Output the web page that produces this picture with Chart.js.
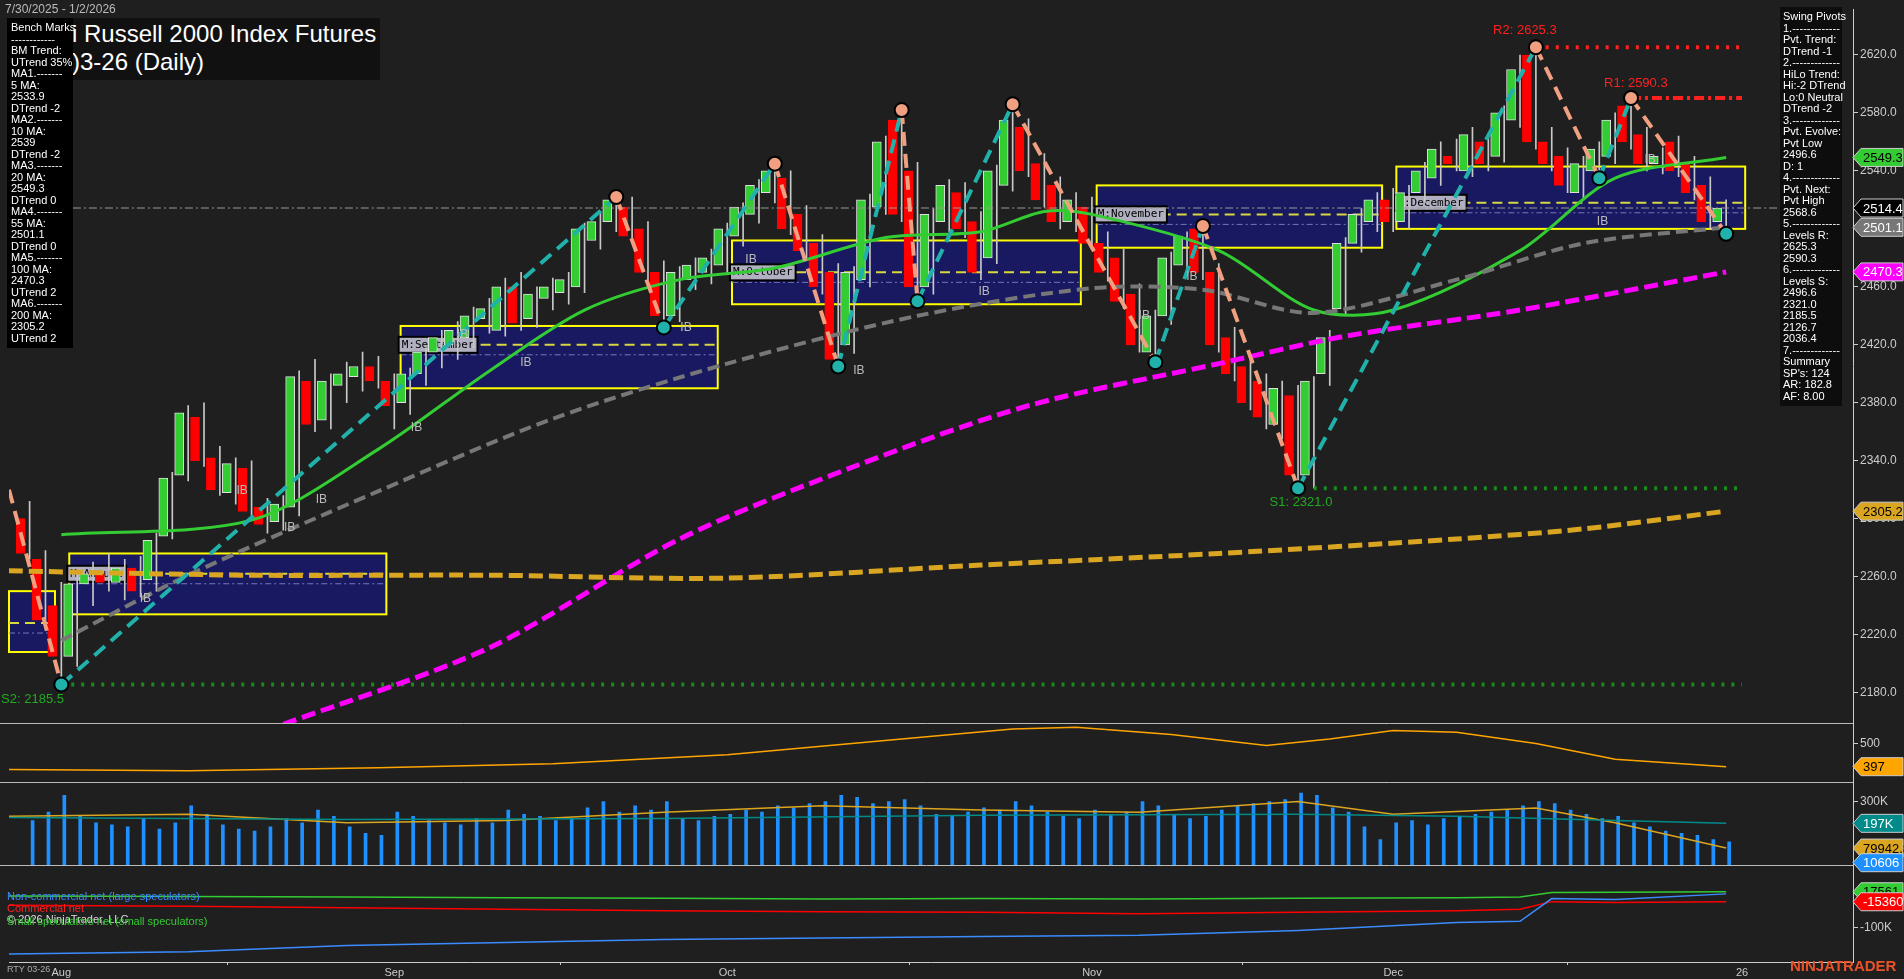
<!DOCTYPE html>
<html>
<head>
<meta charset="utf-8">
<script src="https://cdn.jsdelivr.net/npm/chart.js@4.4.1/dist/chart.umd.min.js"></script>
<style>
  body { margin:0; background:#1f1f1f; font-family:"Liberation Sans", Arial, sans-serif; }
  #wrap { position:relative; width:1904px; height:979px; }
  .txt { position:absolute; color:#fff; font-size:11px; line-height:11.5px; white-space:pre; }
  #bench { left:7px; top:18px; width:58px; padding:4px; background:#000; z-index:3; }
  #swing { left:1780px; top:7px; width:56px; padding:4px 3px; background:#0d0d0d; }
  #title { left:72px; top:18px; width:308px; height:60px; background:#111; font-size:24px; line-height:28px; padding-top:2px; z-index:2; }
</style>
</head>
<body>
<div id="wrap">
  <canvas id="c"></canvas>
  <div class="txt" style="left:5px;top:4px;color:#bbb;font-size:12px;">7/30/2025 - 1/2/2026</div>
  <div class="txt" id="title">i Russell 2000 Index Futures
)3-26 (Daily)</div>
  <div class="txt" id="bench">Bench Marks
------------
BM Trend:
UTrend 35%
MA1.-------
5 MA:
2533.9
DTrend -2
MA2.-------
10 MA:
2539
DTrend -2
MA3.-------
20 MA:
2549.3
DTrend 0
MA4.-------
55 MA:
2501.1
DTrend 0
MA5.-------
100 MA:
2470.3
UTrend 2
MA6.-------
200 MA:
2305.2
UTrend 2</div>
  <div class="txt" id="swing">Swing Pivots
1.-------------
Pvt. Trend:
DTrend -1
2.-------------
HiLo Trend:
Hi:-2 DTrend
Lo:0 Neutral
DTrend -2
3.-------------
Pvt. Evolve:
Pvt Low
2496.6
D: 1
4.-------------
Pvt. Next:
Pvt High
2568.6
5.-------------
Levels R:
2625.3
2590.3
6.-------------
Levels S:
2496.6
2321.0
2185.5
2126.7
2036.4
7.-------------
Summary
SP's: 124
AR: 182.8
AF: 8.00</div>
  <div class="txt" style="left:7px;top:891px;color:#3b8cff;">Non-commercial net (large speculators)</div>
  <div class="txt" style="left:7px;top:903px;color:#ff2020;">Commercial net</div>
  <div class="txt" style="left:7px;top:914px;color:#ddd;">© 2026 NinjaTrader, LLC</div>
  <div class="txt" style="left:7px;top:916px;color:#33cc33;">Small speculators net (small speculators)</div>
  <div class="txt" style="left:7px;top:964px;color:#aaa;font-size:9px;">RTY 03-26</div>
  <div class="txt" style="left:1790px;top:960px;color:#e8532a;font-size:15px;font-weight:bold;">NINJATRADER</div>
</div>
<script>
// daily candles, index 0 = 7/30/2025
var opens  = [2300,2272,2240,2205,2255,2262,2256,2266,2258,2288,2330,2370,2342,2318,2335,2308,2298,2308,2395,2368,2392,2398,2405,2395,2380,2400,2415,2420,2425,2438,2430,2460,2438,2452,2456,2460,2492,2505,2515,2500,2470,2440,2465,2470,2475,2495,2510,2525,2535,2510,2490,2470,2420,2465,2515,2575,2540,2460,2505,2525,2505,2480,2530,2570,2545,2530,2505,2515,2490,2480,2455,2415,2440,2475,2500,2470,2425,2405,2395,2365,2385,2330,2400,2445,2490,2505,2520,2505,2525,2535,2550,2540,2560,2550,2575,2620,2560,2550,2525,2540,2550,2585,2565,2545,2560,2545,2530,2505];
var highs  = [2312,2278,2256,2262,2270,2276,2272,2274,2290,2332,2378,2380,2350,2342,2340,2314,2316,2402,2410,2400,2408,2415,2412,2400,2404,2418,2430,2436,2446,2452,2466,2470,2460,2466,2470,2504,2512,2525,2522,2505,2478,2474,2480,2486,2504,2518,2534,2545,2540,2516,2496,2476,2474,2524,2564,2582,2546,2514,2534,2532,2512,2544,2586,2576,2552,2536,2525,2522,2498,2486,2462,2444,2484,2498,2505,2476,2432,2412,2400,2395,2392,2398,2430,2494,2514,2525,2528,2530,2546,2560,2562,2570,2566,2585,2620,2625.3,2570,2556,2550,2560,2580,2590.3,2570,2556,2564,2550,2536,2520];
var lows   = [2272,2224,2185,2198,2240,2250,2244,2246,2250,2286,2326,2336,2316,2310,2302,2290,2292,2302,2360,2362,2380,2388,2390,2362,2372,2392,2404,2410,2418,2428,2426,2430,2432,2444,2448,2456,2486,2498,2490,2465,2432,2436,2458,2462,2470,2488,2504,2518,2496,2480,2455,2405,2414,2460,2510,2505,2450,2455,2498,2494,2465,2476,2526,2536,2515,2500,2498,2486,2464,2445,2415,2408,2434,2468,2465,2415,2395,2375,2362,2355,2321,2321,2392,2440,2484,2498,2498,2500,2518,2530,2540,2536,2540,2546,2570,2555,2540,2525,2520,2535,2545,2555,2540,2538,2536,2520,2500,2496.6];
var closes = [2276,2230,2205,2255,2262,2256,2266,2250,2285,2328,2373,2340,2320,2338,2305,2296,2310,2398,2365,2395,2400,2405,2395,2378,2400,2415,2425,2430,2440,2445,2460,2435,2455,2460,2465,2500,2505,2520,2495,2470,2440,2470,2475,2480,2500,2515,2530,2540,2500,2485,2460,2410,2470,2520,2560,2510,2460,2510,2530,2500,2470,2540,2575,2540,2520,2505,2520,2490,2470,2450,2420,2440,2480,2495,2470,2420,2400,2380,2370,2390,2330,2395,2425,2490,2510,2520,2505,2525,2540,2555,2545,2565,2545,2580,2610,2560,2545,2530,2545,2555,2575,2560,2545,2550,2540,2525,2505,2514.4];
var volumes = [210,250,330,230,200,190,180,220,170,200, 280,240,190,170,160,180,220,200,260,230, 180,150,140,250,230,210,200,190,220,200, 260,240,230,210,220,270,300,250,280,260, 300,220,210,230,240,260,250,280,270,290, 300,330,320,290,300,310,280,240,230,250, 270,260,300,280,250,230,220,260,240,250, 300,280,240,220,230,260,280,290,300,310, 340,330,270,250,180,120,200,210,190,220, 230,240,250,260,280,300,290,260,240,220, 230,200,180,160,150,140,120,110,10.6];

// month labels on the x axis
var monthTicks = [2, 23, 44, 67, 86, 108];
var monthNames = ["Aug", "Sep", "Oct", "Nov", "Dec", "26"];
var priceTicks = [2180,2200,2220,2240,2260,2280,2300,2320,2340,2360,2380,2400,2420,2440,2460,2480,2500,2520,2540,2560,2580,2600,2620,2640];

// moving averages (index, value)
var ma20x  = [2, 14, 22, 29, 35, 41, 47, 54, 60, 64, 67, 75, 81, 86, 94, 100, 107];
var ma20y  = [2289,2299,2348,2402,2444,2465,2473,2494,2498,2512,2510,2485,2444,2444,2485,2535,2549.3];
var ma55x  = [2, 10, 22, 33, 44, 56, 67, 74, 81, 90, 98, 107];
var ma55y  = [2216,2261,2319,2369,2407,2440,2459,2458,2442,2465,2490,2501.1];
var ma100x = [16, 29, 41, 52, 63, 75, 83, 94, 107];
var ma100y = [2158,2211,2286,2336,2378,2407,2426,2444,2470.3];
var ma200x = [-1.3, 14, 29, 44, 60, 75, 90, 98, 107];
var ma200y = [2264,2261,2261,2259,2268,2276,2286,2293,2305.2];

// swing pivots
var pivotX = [-1.3, 2, 37, 40, 47, 51, 55, 56, 62, 71, 74, 80, 95, 99, 101, 107];
var pivotY = [2320, 2185.5, 2522, 2432, 2545, 2405, 2582, 2450, 2586, 2408, 2502, 2321, 2625.3, 2535, 2590.3, 2496.6];

// "IB" marks
var ibX = [7.3, 13.4, 16.4, 18.4, 24.4, 27.3, 31.3, 41.4, 45.5, 52.3, 60.2, 70.3, 73.3, 99.2, 102.2];
var ibY = [2245, 2319, 2294, 2313, 2363, 2427, 2408, 2432, 2479, 2402, 2457, 2440, 2467, 2505, 2548];

// monthly boxes
var boxNames = ["", "M:August", "M:September", "M:October", "M:November", "M:December"];
var boxStart = [-1.3, 2.5, 23.4, 44.3, 67.3, 86.2];
var boxEnd   = [1.6, 22.5, 43.4, 66.3, 85.3, 108.2];
var boxHigh  = [2250, 2276, 2433, 2492, 2530, 2543];
var boxLow   = [2208, 2234, 2390, 2448, 2487, 2500];
var boxMid   = [2228, 2262, 2420, 2470, 2510, 2518];

// lower panels (index, value)
var oscX = [-1.3, 10, 22, 33, 44, 55, 62, 66, 72, 78, 82, 86, 90, 95, 100, 107];
var oscY = [385, 379, 392, 410, 450, 520, 565, 572, 540, 491, 520, 558, 550, 500, 430, 397];
var volAvgX = [-1.3, 10, 20, 30, 40, 50, 60, 70, 80, 86, 95, 100, 107];
var volAvgY = [230, 240, 200, 210, 250, 280, 260, 250, 300, 240, 270, 200, 80];
var volTealX = [-1.3, 20, 40, 60, 80, 90, 100, 107];
var volTealY = [225, 215, 220, 235, 240, 230, 210, 197];
var cotX = [-1.3, 10, 20, 30, 40, 50, 60, 70, 80, 90, 94, 96, 100, 107];
var cotLarge = [-188, -180, -160, -150, -140, -135, -130, -126, -110, -84, -80, -5, -8, 10.6];
var cotComm  = [-27, -30, -35, -40, -45, -48, -50, -55, -50, -45, -40, -15, -18, -15.4];
var cotSmall = [4, 2, 0, -2, -4, -6, -5, -6, -4, -2, 0, 15, 16, 17.6];

function pts(xs, ys) { return xs.map(function (x, i) { return { x: x, y: ys[i] }; }); }
var idx = closes.map(function (v, i) { return i; });

var tags = [
  { axis: "price", v: 2549.3, t: "2549.3", bg: "#33cc33", fg: "#000" },
  { axis: "price", v: 2514.4, t: "2514.4", bg: "#000", fg: "#fff" },
  { axis: "price", v: 2501.1, t: "2501.1", bg: "#777", fg: "#fff" },
  { axis: "price", v: 2470.3, t: "2470.3", bg: "#ff00ff", fg: "#fff" },
  { axis: "price", v: 2305.2, t: "2305.2", bg: "#daa520", fg: "#000" },
  { axis: "osc", v: 397, t: "397", bg: "#ffa500", fg: "#000" },
  { axis: "vol", v: 197, t: "197K", bg: "#008b8b", fg: "#fff" },
  { axis: "vol", v: 79.9, t: "79942.8", bg: "#daa520", fg: "#000" },
  { axis: "vol", v: 10.6, t: "10606", bg: "#1e90ff", fg: "#fff" },
  { axis: "cot", v: 17.6, t: "17561", bg: "#33cc33", fg: "#000" },
  { axis: "cot", v: -15.4, t: "-15360", bg: "#ff0000", fg: "#fff" }
];

var extras = {
  id: "extras",
  beforeDatasetsDraw: function (chart) {
    var ctx = chart.ctx, x = chart.scales.x, y = chart.scales.price;
    ctx.save();
    for (var i = 0; i < boxStart.length; i++) {
      var l = x.getPixelForValue(boxStart[i]), r = x.getPixelForValue(boxEnd[i]);
      var t = y.getPixelForValue(boxHigh[i]), b = y.getPixelForValue(boxLow[i]);
      ctx.fillStyle = "rgba(25,25,110,0.85)";
      ctx.fillRect(l, t, r - l, b - t);
      ctx.strokeStyle = "#ffff00"; ctx.lineWidth = 2; ctx.setLineDash([]);
      ctx.strokeRect(l, t, r - l, b - t);
      var m = y.getPixelForValue(boxMid[i]);
      ctx.setLineDash([10, 6]); ctx.strokeStyle = "#d8d840";
      ctx.beginPath(); ctx.moveTo(l, m); ctx.lineTo(r, m); ctx.stroke();
      ctx.setLineDash([6, 3, 2, 3]); ctx.strokeStyle = "#7777bb"; ctx.lineWidth = 1;
      ctx.beginPath(); ctx.moveTo(l, m + 10); ctx.lineTo(r, m + 10); ctx.stroke();
      if (boxNames[i]) {
        ctx.setLineDash([]);
        ctx.font = "11px 'DejaVu Sans Mono', monospace";
        var w = ctx.measureText(boxNames[i]).width + 6;
        ctx.fillStyle = "#b0b0c0"; ctx.fillRect(l - 2, m - 8, w, 16);
        ctx.strokeStyle = "#000"; ctx.lineWidth = 2; ctx.strokeRect(l - 2, m - 8, w, 16);
        ctx.fillStyle = "#000"; ctx.textBaseline = "middle";
        ctx.fillText(boxNames[i], l + 1, m);
      }
    }
    ctx.restore();
  },
  afterDraw: function (chart) {
    var ctx = chart.ctx, x = chart.scales.x, p = chart.scales.price;
    ctx.save();
    ctx.font = "12px 'Liberation Sans', Arial";
    ctx.fillStyle = "#bbb"; ctx.textBaseline = "middle"; ctx.textAlign = "center";
    ibX.forEach(function (v, i) { ctx.fillText("IB", x.getPixelForValue(v), p.getPixelForValue(ibY[i])); });
    ctx.textAlign = "left";
    ctx.font = "13px 'Liberation Sans', Arial";
    ctx.textBaseline = "bottom";
    ctx.fillStyle = "#ff2020";
    ctx.fillText("R2: 2625.3", x.getPixelForValue(92.3), p.getPixelForValue(2625.3) - 10);
    ctx.fillText("R1: 2590.3", x.getPixelForValue(99.3), p.getPixelForValue(2590.3) - 8);
    ctx.fillStyle = "#22aa22"; ctx.textBaseline = "top";
    ctx.fillText("S1: 2321.0", x.getPixelForValue(78.2), p.getPixelForValue(2321) + 8);
    ctx.fillText("S2: 2185.5", x.getPixelForValue(-1.8), p.getPixelForValue(2185.5) + 8);
    // panel separators
    ctx.strokeStyle = "#bbb"; ctx.lineWidth = 1;
    ["price", "osc", "vol"].forEach(function (id) {
      var yb = Math.round(chart.scales[id].bottom) + 0.5;
      ctx.beginPath(); ctx.moveTo(0, yb); ctx.lineTo(chart.scales[id].left, yb); ctx.stroke();
    });
    // value tags
    ctx.font = "13px 'Liberation Sans', Arial";
    ctx.textBaseline = "middle";
    tags.forEach(function (g) {
      var s = chart.scales[g.axis], yy = s.getPixelForValue(g.v), l = s.left, r = chart.width - 1;
      ctx.beginPath();
      ctx.moveTo(l, yy); ctx.lineTo(l + 8, yy - 9); ctx.lineTo(r, yy - 9);
      ctx.lineTo(r, yy + 9); ctx.lineTo(l + 8, yy + 9); ctx.closePath();
      ctx.fillStyle = g.bg; ctx.fill();
      ctx.strokeStyle = "#ccc"; ctx.lineWidth = 1; ctx.stroke();
      ctx.fillStyle = g.fg; ctx.fillText(g.t, l + 10, yy + 1);
    });
    ctx.restore();
  },
  beforeDraw: function (chart) {
    var ctx = chart.ctx;
    ctx.save(); ctx.fillStyle = "#1f1f1f"; ctx.fillRect(0, 0, chart.width, chart.height); ctx.restore();
  }
};

function line(data, color, width, dash, axis) {
  return { type: "line", data: data, borderColor: color, borderWidth: width, borderDash: dash || [],
    pointRadius: 0, yAxisID: axis || "price", tension: 0.3, order: 1 };
}

var datasets = [
  { type: "bar", data: idx.map(function (i) { return { x: i, y: [lows[i], highs[i]] }; }),
    backgroundColor: "#c8c8c8", barThickness: 1, yAxisID: "price", order: 3 },
  { type: "bar", data: idx.map(function (i) { return { x: i, y: [opens[i], closes[i]] }; }),
    backgroundColor: idx.map(function (i) { return closes[i] >= opens[i] ? "#33cc33" : "#ff0000"; }),
    borderColor: idx.map(function (i) { return closes[i] >= opens[i] ? "#e0e0e0" : "#ff0000"; }),
    borderWidth: 1, borderSkipped: false, minBarLength: 2, barThickness: 9, yAxisID: "price", order: 2 },
  line(pts(ma200x, ma200y), "#daa520", 5, [14, 6]),
  line(pts(ma100x, ma100y), "#ff00ff", 5, [14, 6]),
  line(pts(ma55x, ma55y), "#777", 4, [12, 6]),
  line(pts(ma20x, ma20y), "#33cc33", 3),
  line([{ x: -1.3, y: 2514.4 }, { x: 114, y: 2514.4 }], "#999", 1, [8, 3, 2, 3]),
  line([{ x: 95, y: 2625.3 }, { x: 108, y: 2625.3 }], "#ff2020", 4, [3, 7]),
  line([{ x: 101, y: 2590.3 }, { x: 108, y: 2590.3 }], "#ff2020", 4, [10, 4, 3, 4]),
  line([{ x: 81, y: 2321 }, { x: 108, y: 2321 }], "#1a8a1a", 4, [3, 7]),
  line([{ x: 2, y: 2185.5 }, { x: 108, y: 2185.5 }], "#1a8a1a", 4, [3, 7]),
  { type: "line", data: pts(pivotX, pivotY), borderWidth: 4, borderDash: [14, 8], yAxisID: "price", order: 0,
    segment: { borderColor: function (c) { return c.p1.parsed.y > c.p0.parsed.y ? "#20b2aa" : "#f0a080"; } },
    pointRadius: pivotX.map(function (v, i) { return i === 0 ? 0 : 7; }),
    pointBackgroundColor: pivotX.map(function (v, i) { return pivotY[i] > (pivotY[i - 1] || 9999) ? "#f0a080" : "#20b2aa"; }),
    pointBorderColor: "#000", pointBorderWidth: 2 },
  line(pts(oscX, oscY), "#ffa500", 1.5, [], "osc"),
  { type: "bar", data: idx.map(function (i) { return { x: i, y: volumes[i] }; }),
    backgroundColor: "#1e90ff", barThickness: 3, yAxisID: "vol", order: 3 },
  line(pts(volTealX, volTealY), "#008b8b", 1.5, [], "vol"),
  line(pts(volAvgX, volAvgY), "#daa520", 1.5, [], "vol"),
  line(pts(cotX, cotLarge), "#3b8cff", 1.5, [], "cot"),
  line(pts(cotX, cotComm), "#ff0000", 1.5, [], "cot"),
  line(pts(cotX, cotSmall), "#33cc33", 1.5, [], "cot")
];
datasets.slice(12).forEach(function (d) { d.tension = 0; });
datasets[11].tension = 0;

function yAxis(min, max, weight, ticks, fmt) {
  return {
    type: "linear", position: "right", stack: "p", stackWeight: weight, min: min, max: max,
    grid: { display: true, drawOnChartArea: false, color: "#ccc", tickLength: 5 },
    border: { color: "#ccc" },
    afterBuildTicks: function (s) { s.ticks = ticks.map(function (v) { return { value: v }; }); },
    afterFit: function (s) { s.width = 51; },
    ticks: { color: "#ccc", font: { size: 12 }, padding: 2, callback: fmt }
  };
}

Chart.defaults.font.family = "'Liberation Sans', Arial, sans-serif";
var cv = document.getElementById("c");
cv.width = 1904; cv.height = 979;
new Chart(cv, {
  type: "bar",
  data: { datasets: datasets },
  options: {
    responsive: false, animation: false, devicePixelRatio: 1,
    layout: { padding: 0 },
    plugins: { legend: { display: false }, tooltip: { enabled: false } },
    scales: {
      x: { type: "linear", min: -1.3, max: 115, offset: false,
        grid: { display: true, drawOnChartArea: false, color: "#ccc", tickLength: 3 },
        border: { color: "#ccc" },
        afterBuildTicks: function (s) { s.ticks = monthTicks.map(function (v) { return { value: v }; }); },
        afterFit: function (s) { s.height = 17; s.paddingLeft = 0; s.paddingRight = 0; },
        ticks: { color: "#ccc", font: { size: 11 }, padding: 1, maxRotation: 0,
          callback: function (v) { return monthNames[monthTicks.indexOf(v)]; } } },
      price: yAxis(2158.8, 2651.6, 721, priceTicks, function (v) { return v.toFixed(1); }),
      osc: yAxis(330, 590, 59, [500], function (v) { return v; }),
      vol: yAxis(0, 394, 84, [300], function (v) { return v + "K"; }),
      cot: yAxis(-214, 106, 98, [-100], function (v) { return v + "K"; })
    }
  },
  plugins: [extras]
});
</script>
</body>
</html>
